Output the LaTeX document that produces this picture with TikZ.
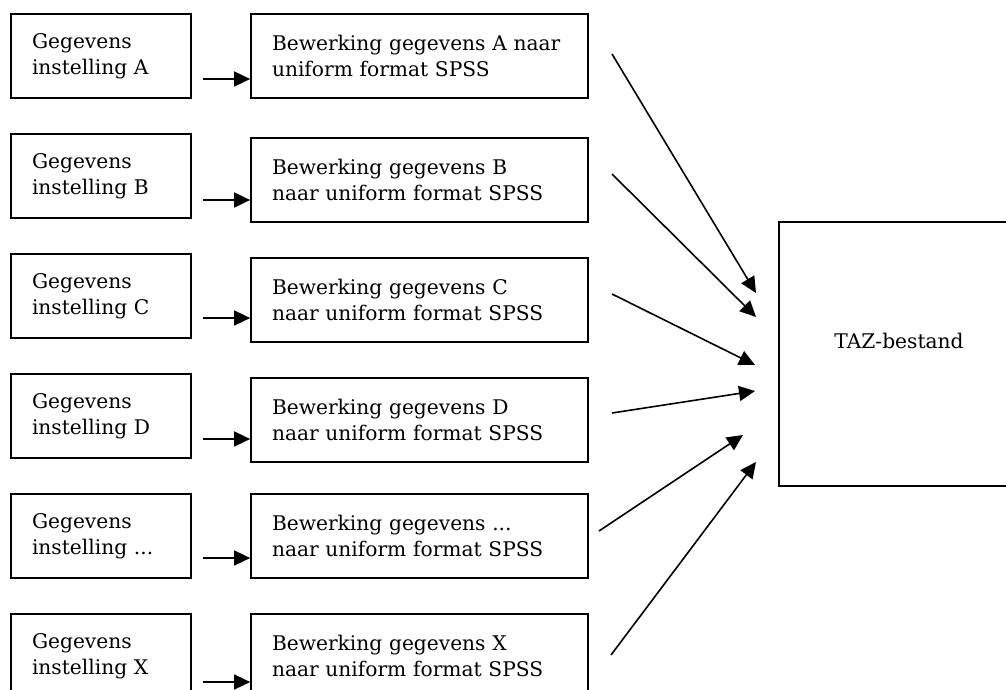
\documentclass[tikz,border=0pt]{standalone}
\usepackage{fontspec}
\setmainfont{DejaVu Serif}
\usetikzlibrary{arrows.meta}
\newcommand{\puntjes}{...}

\begin{document}
\begin{tikzpicture}[x=1pt, y=-1pt, line width=1.7pt, font=\fontsize{20.2}{26}\selectfont,
  bron node/.style={rectangle, draw, align=left, inner xsep=21pt, inner ysep=0pt, text width=138pt, minimum height=84pt},
  bewerk node/.style={bron node, text width=295pt},
  taz node/.style={rectangle, draw, minimum width=240pt, minimum height=264pt, text depth=26pt},
  pijl/.style={-{Triangle[length=16pt, width=15pt]}, line width=1.6pt}]
\useasboundingbox (0,0) rectangle (1006,690);
\clip (0,0) rectangle (1006,690);
% key / letter / top of bron box / top of bewerk box / y of small arrow / text
\foreach \k/\l/\y/\m/\a/\t in {a/A/14/14/79/{Bewerking gegevens A naar\\uniform format SPSS},
    b/B/134/138/200/{Bewerking gegevens B\\naar uniform format SPSS},
    c/C/254/258/318/{Bewerking gegevens C\\naar uniform format SPSS},
    d/D/374/378/439/{Bewerking gegevens D\\naar uniform format SPSS},
    e/\puntjes/494/494/558/{Bewerking gegevens \puntjes\\naar uniform format SPSS},
    x/X/614/614/682/{Bewerking gegevens X\\naar uniform format SPSS}}{
    \node[bron node] (bron\k) at (101,\y+42) {Gegevens\\instelling \l};
    \node[bewerk node] (bewerk\k) at (419.5,\m+42) {\t};
    \coordinate (s\k) at (203,\a);
    \draw[pijl] (s\k) -- (s\k -| bewerk\k.west);}
\node[taz node] (taz) at (899,354) {TAZ-bestand};
% loose arrows towards the TAZ box
\foreach \k/\sx/\sy/\ex/\ey in {a/612/54/756/293, b/612/174/756/317, c/612/294/755/365,
    d/612/413/755/391, e/599/531/743/435, x/611/655/756/462}{
    \coordinate (v\k) at (\sx,\sy);
    \coordinate (p\k) at (\ex,\ey);
    \draw[pijl] (v\k) -- (p\k);}
\end{tikzpicture}
\end{document}
